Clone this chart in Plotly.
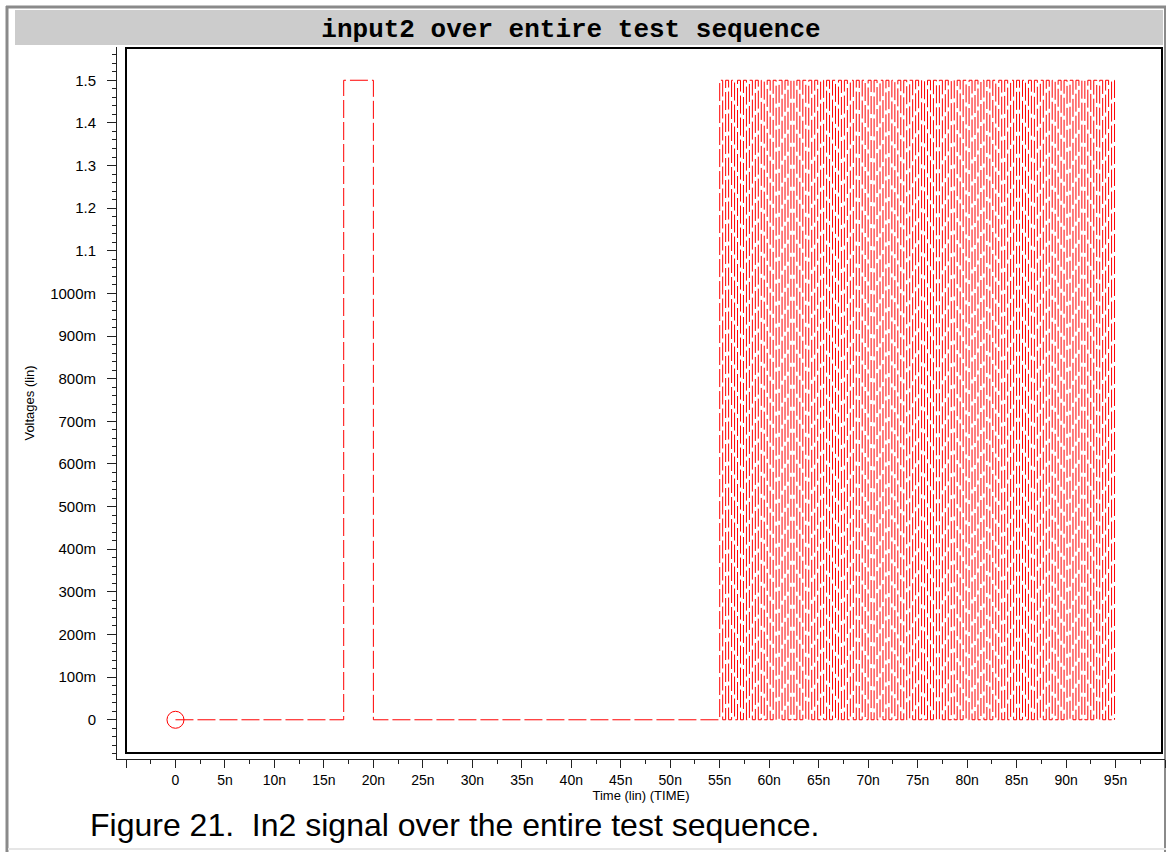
import plotly.graph_objects as go

# ---- data (ns, V) ----
time_ns_main = [0, 17, 17, 20, 20, 55]
volts_main = [0, 0, 1.5, 1.5, 0, 0]

clock_rise_ns = [55.0, 55.6, 56.2, 56.8, 57.4, 58.0, 58.6, 59.2, 59.8, 60.4,
                 61.0, 61.6, 62.2, 62.8, 63.4, 64.0, 64.6, 65.2, 65.8, 66.4,
                 67.0, 67.6, 68.2, 68.8, 69.4, 70.0, 70.6, 71.2, 71.8, 72.4,
                 73.0, 73.6, 74.2, 74.8, 75.4, 76.0, 76.6, 77.2, 77.8, 78.4,
                 79.0, 79.6, 80.2, 80.8, 81.4, 82.0, 82.6, 83.2, 83.8, 84.4,
                 85.0, 85.6, 86.2, 86.8, 87.4, 88.0, 88.6, 89.2, 89.8, 90.4,
                 91.0, 91.6, 92.2, 92.8, 93.4, 94.0, 94.6]
clock_fall_ns = [55.3, 55.9, 56.5, 57.1, 57.7, 58.3, 58.9, 59.5, 60.1, 60.7,
                 61.3, 61.9, 62.5, 63.1, 63.7, 64.3, 64.9, 65.5, 66.1, 66.7,
                 67.3, 67.9, 68.5, 69.1, 69.7, 70.3, 70.9, 71.5, 72.1, 72.7,
                 73.3, 73.9, 74.5, 75.1, 75.7, 76.3, 76.9, 77.5, 78.1, 78.7,
                 79.3, 79.9, 80.5, 81.1, 81.7, 82.3, 82.9, 83.5, 84.1, 84.7,
                 85.3, 85.9, 86.5, 87.1, 87.7, 88.3, 88.9, 89.5, 90.1, 90.7,
                 91.3, 91.9, 92.5, 93.1, 93.7, 94.3, 94.9]
clock_low_v = 0.0
clock_high_v = 1.5

y_tickvals = [0, 0.1, 0.2, 0.3, 0.4, 0.5, 0.6, 0.7, 0.8, 0.9, 1.0, 1.1, 1.2, 1.3, 1.4, 1.5]
y_ticktext = ["0", "100m", "200m", "300m", "400m", "500m", "600m", "700m", "800m",
              "900m", "1000m", "1.1", "1.2", "1.3", "1.4", "1.5"]
x_tickvals = [-5, 0, 5, 10, 15, 20, 25, 30, 35, 40, 45, 50, 55, 60, 65, 70, 75, 80, 85, 90, 95, 100]
x_ticktext = ["", "0", "5n", "10n", "15n", "20n", "25n", "30n", "35n", "40n", "45n", "50n",
              "55n", "60n", "65n", "70n", "75n", "80n", "85n", "90n", "95n", ""]

# ---- build waveform ----
xs = list(time_ns_main)
ys = list(volts_main)
for r, f in zip(clock_rise_ns, clock_fall_ns):
    xs += [r, r, f, f]
    ys += [clock_low_v, clock_high_v, clock_high_v, clock_low_v]

W, H = 1166, 852
L, R, T, B = 117, 1165, 47, 759


def px(x):
    return (x - L) / (R - L)


def py(y):
    return (B - y) / (B - T)


RED = "#ff0000"
fig = go.Figure()
fig.add_trace(go.Scatter(x=xs, y=ys, mode="lines",
                         line=dict(color=RED, width=1, dash="18px,4px"),
                         hoverinfo="skip"))
fig.add_trace(go.Scatter(x=[time_ns_main[0]], y=[volts_main[0]], mode="markers",
                         marker=dict(symbol="circle-open", size=17, color=RED,
                                     line=dict(color=RED, width=1)),
                         hoverinfo="skip"))

font = "Liberation Sans, Arial, sans-serif"
fig.update_layout(
    width=W, height=H,
    margin=dict(l=L, r=W - R, t=T, b=H - B, pad=0),
    paper_bgcolor="white", plot_bgcolor="white",
    showlegend=False,
    title=dict(text="<b>input2 over entire test sequence</b>",
               font=dict(family="Liberation Mono, Courier New, monospace", size=26, color="black"),
               x=571 / W, xref="container", xanchor="center", y=1 - 28 / H, yref="container", yanchor="middle"),
    xaxis=dict(range=[-5 - 9 / 9.9, 100], showgrid=False, zeroline=False,
               showline=True, linecolor="#222222", linewidth=1,
               tickmode="array", tickvals=x_tickvals, ticktext=x_ticktext,
               ticks="outside", ticklen=8, tickwidth=1, tickcolor="#222222",
               tickfont=dict(family=font, size=14, color="black"),
               minor=dict(tickmode="linear", tick0=0, dtick=2.5, ticks="outside",
                          ticklen=4, tickwidth=1, tickcolor="#222222"),
               title=dict(text="Time (lin) (TIME)", font=dict(family=font, size=13, color="black"),
                          standoff=0)),
    yaxis=dict(range=[-0.092, 1.578], showgrid=False, zeroline=False,
               showline=True, linecolor="#222222", linewidth=1,
               tickmode="array", tickvals=y_tickvals, ticktext=y_ticktext,
               ticks="outside", ticklen=9, tickwidth=1, tickcolor="#222222",
               ticklabelstandoff=8,
               tickfont=dict(family=font, size=15, color="black"),
               minor=dict(tickmode="linear", tick0=0, dtick=0.02, ticks="outside",
                          ticklen=4, tickwidth=1, tickcolor="#222222"),
               title=dict(text="Voltages (lin)", font=dict(family=font, size=13, color="black"),
                          standoff=12)),
    shapes=[
        # outer gray border
        dict(type="line", xref="paper", yref="paper", x0=px(7), x1=px(7), y0=py(6), y1=py(852),
             line=dict(color="#8a8a8a", width=3), layer="below"),
        dict(type="line", xref="paper", yref="paper", x0=px(6), x1=px(1166), y0=py(7), y1=py(7),
             line=dict(color="#8a8a8a", width=3), layer="below"),
        dict(type="line", xref="paper", yref="paper", x0=px(1165), x1=px(1165), y0=py(6), y1=py(852),
             line=dict(color="#8a8a8a", width=2), layer="below"),
        dict(type="line", xref="paper", yref="paper", x0=px(8), x1=px(1166), y0=py(849), y1=py(849),
             line=dict(color="#e6e6e6", width=2), layer="below"),
        # title bar
        dict(type="rect", xref="paper", yref="paper", x0=px(15), x1=px(1163), y0=py(45), y1=py(10),
             fillcolor="#cccccc", line=dict(width=0), layer="below"),
        # plot frame
        dict(type="rect", xref="paper", yref="paper", x0=px(126), x1=px(1162), y0=py(753), y1=py(48),
             line=dict(color="black", width=2), fillcolor="rgba(0,0,0,0)", layer="above"),
    ],
    annotations=[
        dict(text="Figure 21.  In2 signal over the entire test sequence.",
             xref="paper", yref="paper", x=px(88), y=py(825), xanchor="left", yanchor="middle",
             showarrow=False, font=dict(family=font, size=32, color="black")),
    ],
)

fig.write_html("out.html", config={"displayModeBar": False},
               post_script="document.body.style.margin='0';document.body.style.overflow='hidden';")
